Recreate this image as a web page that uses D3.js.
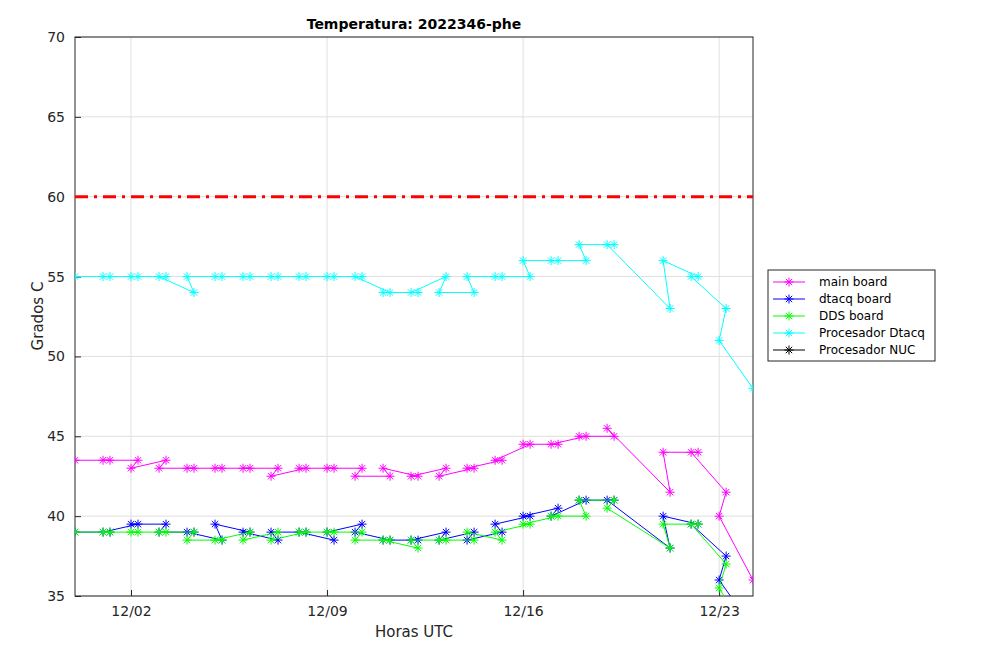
<!DOCTYPE html>
<html><head><meta charset="utf-8">
<script src="https://cdn.jsdelivr.net/npm/d3@7"></script>
<style>body{margin:0;background:#fff;font-family:"DejaVu Sans",sans-serif;}</style>
</head><body><svg id="chart" width="1008" height="661"></svg>
<script>
// time in days since 11/30 00:00 UTC
let times = [0, 1.25,1, 2.25,2, 3.25,3, 4.25,4, 5.25,5, 6.25,6, 7.25,7, 8.25,8, 9.25,9, 10.25,10,
  11.25,11, 12.25,12, 13.25,13, 14.25,14, 15.25,15, 16.25,16, 17.25,17, 18.25,18, 19.25,19,
  21.25,21, 22.25,22, 23.25,23, 24.21];

let mainBoard = [43.5, 43.5,43.5, 43.5,43, 43.5,43, 43,43, 43,43, 43,43, 43,42.5, 43,43, 43,43, 43,42.5,
  42.5,43, 42.5,42.5, 43,42.5, 43,43, 43.5,43.5, 44.5,44.5, 44.5,44.5, 45,45, 45,45.5,
  41.5,44, 44,44, 41.5,40, 36];
let dtacqBoard = [39, 39,39, 39.5,39.5, 39.5,39, 39,39, 38.5,39.5, 39,39, 38.5,39, 39,39, 38.5,39, 39.5,39,
  38.5,38.5, 38.5,38.5, 39,38.5, 39,38.5, 39,39.5, 40,40, 40.5,40, 41,41, 41,41,
  38,40, 39.5,39.5, 37.5,36, 33];
let ddsBoard = [39, 39,39, 39,39, 39,39, 39,38.5, 38.5,38.5, 39,38.5, 39,38.5, 39,39, 39,39, 39,38.5,
  38.5,38.5, 38,38.5, 38.5,38.5, 38.5,39, 38.5,39, 39.5,39.5, 40,40, 40,41, 41,40.5,
  38,39.5, 39.5,39.5, 37,35.5, 32];
let procDtacq = [55, 55,55, 55,55, 55,55, 54,55, 55,55, 55,55, 55,55, 55,55, 55,55, 55,55,
  54,54, 54,54, 55,54, 54,55, 55,55, 55,56, 56,56, 56,57, 57,57,
  53,56, 55,55, 53,51, 48];
let procNUC = [];

let seriesNames = ["main board", "dtacq board", "DDS board", "Procesador Dtacq", "Procesador NUC"];
let seriesColors = ["#ff00ff", "#0000ff", "#00ff00", "#00ffff", "#000000"];
let seriesValues = [mainBoard, dtacqBoard, ddsBoard, procDtacq, procNUC];

let xTickDays = [2, 9, 16, 23];
let xTickLabels = ["12/02", "12/09", "12/16", "12/23"];
let yTicks = [35, 40, 45, 50, 55, 60, 65, 70];
let limitValue = 60;

let m = {left: 75, top: 37, right: 753, bottom: 596};

let x = d3.scaleLinear().domain([0, 24.21]).range([m.left, m.right]);
let y = d3.scaleLinear().domain([35, 70]).range([m.bottom, m.top]);

let svg = d3.select('#chart');

svg.append("defs").append("clipPath").attr("id", "clip")
  .append("rect").attr("x", m.left).attr("y", m.top)
  .attr("width", m.right - m.left).attr("height", m.bottom - m.top);

// grid
svg.append("g").selectAll("line").data(xTickDays).enter().append("line")
  .attr("x1", d => x(d)).attr("x2", d => x(d)).attr("y1", m.top).attr("y2", m.bottom)
  .attr("stroke", "#dfdfdf");
svg.append("g").selectAll("line").data(yTicks).enter().append("line")
  .attr("x1", m.left).attr("x2", m.right).attr("y1", d => y(d)).attr("y2", d => y(d))
  .attr("stroke", "#dfdfdf");

// axes
let xAxis = d3.axisBottom(x).tickValues(xTickDays).tickFormat((d, i) => xTickLabels[i]).tickSizeInner(-6).tickSizeOuter(0).tickPadding(10);
let yAxis = d3.axisLeft(y).tickValues(yTicks).tickSizeInner(-6).tickSizeOuter(0).tickPadding(10);
let gx = svg.append("g").attr("transform", `translate(0,${m.bottom})`).call(xAxis);
let gy = svg.append("g").attr("transform", `translate(${m.left},0)`).call(yAxis);
[gx, gy].forEach(g => {
  g.select(".domain").remove();
  g.selectAll("line").attr("stroke", "#262626");
  g.selectAll("text").attr("fill", "#262626").attr("font-size", "14px").attr("font-family", "DejaVu Sans");
});
svg.append("rect").attr("x", m.left).attr("y", m.top).attr("width", m.right - m.left).attr("height", m.bottom - m.top)
  .attr("fill", "none").attr("stroke", "#262626").attr("stroke-width", 1);

// limit line
svg.append("line").attr("x1", m.left).attr("x2", m.right).attr("y1", y(limitValue)).attr("y2", y(limitValue))
  .attr("stroke", "#ff0000").attr("stroke-width", 3).attr("stroke-dasharray", "13,6,3,6");

// star marker
function star(cx, cy, s) {
  let d = s * 0.707;
  return `M${cx - s},${cy}L${cx + s},${cy}M${cx},${cy - s}L${cx},${cy + s}` +
         `M${cx - d},${cy - d}L${cx + d},${cy + d}M${cx - d},${cy + d}L${cx + d},${cy - d}`;
}

let plot = svg.append("g").attr("clip-path", "url(#clip)");
seriesValues.forEach((vals, k) => {
  let pts = vals.map((v, i) => [times[i], v]);
  plot.append("path").datum(pts)
    .attr("fill", "none").attr("stroke", seriesColors[k]).attr("stroke-width", 1)
    .attr("d", d3.line().x(d => x(d[0])).y(d => y(d[1])));
  plot.append("g").selectAll("path").data(pts).enter().append("path")
    .attr("d", d => star(x(d[0]), y(d[1]), 4.5))
    .attr("stroke", seriesColors[k]).attr("stroke-width", 1).attr("fill", "none");
});

// titles
svg.append("text").attr("x", 414).attr("y", 29).attr("text-anchor", "middle")
  .attr("font-size", "14px").attr("font-weight", "bold").attr("fill", "#000").text("Temperatura: 2022346-phe");
svg.append("text").attr("x", 414).attr("y", 637).attr("text-anchor", "middle")
  .attr("font-size", "15px").attr("fill", "#262626").text("Horas UTC");
svg.append("text").attr("transform", "translate(43,316) rotate(-90)").attr("text-anchor", "middle")
  .attr("font-size", "15px").attr("fill", "#262626").text("Grados C");

// legend
let lg = svg.append("g").attr("transform", "translate(768,270)");
lg.append("rect").attr("width", 167).attr("height", 91).attr("fill", "#fff").attr("stroke", "#262626");
seriesNames.forEach((n, k) => {
  let yy = 12 + k * 17;
  lg.append("line").attr("x1", 5).attr("x2", 37).attr("y1", yy).attr("y2", yy).attr("stroke", seriesColors[k]);
  lg.append("path").attr("d", star(21, yy, 4.5)).attr("stroke", seriesColors[k]).attr("fill", "none");
  lg.append("text").attr("x", 51).attr("y", yy + 4).attr("font-size", "12px").attr("fill", "#000").text(n);
});
</script>
</body></html>
